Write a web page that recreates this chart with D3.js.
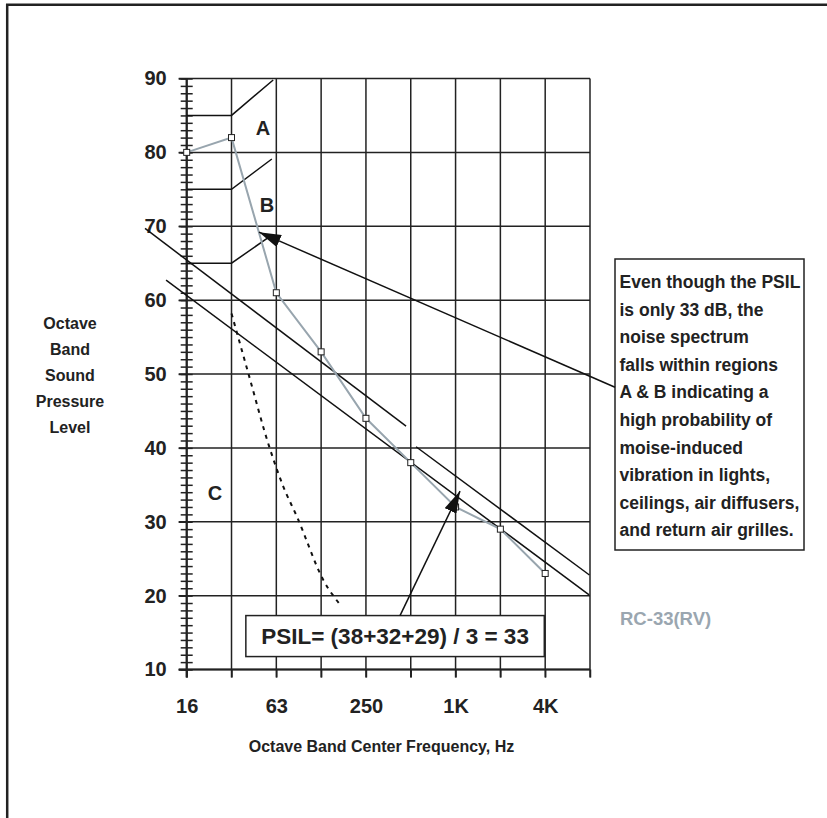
<!DOCTYPE html>
<html>
<head>
<meta charset="utf-8">
<script src="https://cdn.jsdelivr.net/npm/d3@7"></script>
<style>
  body { margin: 0; background: #fff; }
  text { font-family: "Liberation Sans", Arial, sans-serif; font-weight: bold; fill: #222; }
</style>
</head>
<body>
<div id="container"></div>
<script>
/* DATA */
var bands = ["16", "31.5", "63", "125", "250", "500", "1K", "2K", "4K", "8K"];
var bandLabels = ["16", "", "63", "", "250", "", "1K", "", "4K", ""];
var dbTicks = [10, 20, 30, 40, 50, 60, 70, 80, 90];

// measured spectrum, one value per octave band (16 Hz .. 4K)
var levels = [80, 82, 61, 53, 44, 38, 32, 29, 23];

// dashed boundary of region C  (band index, dB)
var curveBand = [1, 1.375, 1.84, 2.16, 2.46, 3.05, 3.46];
var curveDb = [58.2, 50.1, 40.2, 34.7, 30.7, 22.1, 18.5];

// region A / B boundaries  [band index, dB]
var boundaryA = [[0, 85], [1, 85], [1.93, 89.8]];
var boundaryB = [[0, 75], [1, 75], [1.9, 79.1]];
var boundaryB2 = [[0, 65], [1, 65], [1.85, 68.6]];

// sloped reference lines  [band index, dB]
var refUpper = [[-0.93, 69.7], [4.895, 42.95]];
var refRC = [[-0.46, 62.7], [8.98, 20.1]];
var refLower = [[5.118, 40.15], [8.987, 22.79]];

var noteLines = [
  "Even though the PSIL",
  "is only 33 dB, the",
  "noise spectrum",
  "falls within regions",
  "A & B indicating a",
  "high probability of",
  "moise-induced",
  "vibration in lights,",
  "ceilings, air diffusers,",
  "and return air grilles."
];
var yTitle = ["Octave", "Band", "Sound", "Pressure", "Level"];
var psilText = "PSIL= (38+32+29) / 3 = 33";

/* SCALES */
var width = 827, height = 818;
var x = d3.scaleLinear().domain([0, 9]).range([186.7, 590]);
var y = d3.scaleLinear().domain([10, 90]).range([669.5, 78.5]);
var ink = "#222";

var svg = d3.select("#container").append("svg")
  .attr("width", width)
  .attr("height", height);

var defs = svg.append("defs");
defs.append("marker")
  .attr("id", "head")
  .attr("viewBox", "0 0 22 13")
  .attr("refX", 22).attr("refY", 6.5)
  .attr("markerWidth", 22).attr("markerHeight", 13)
  .attr("markerUnits", "userSpaceOnUse")
  .attr("orient", "auto")
  .append("path").attr("d", "M0,0L22,6.5L0,13Z").attr("fill", "#111");

// frame
svg.append("path")
  .attr("d", "M7.2," + height + "V4.7H" + width)
  .attr("fill", "none").attr("stroke", ink).attr("stroke-width", 2.5);

/* GRID */
var grid = svg.append("g").attr("stroke", ink).attr("stroke-width", 1.5);
grid.selectAll(".h").data(dbTicks).enter().append("line")
  .attr("x1", x(0) - 8).attr("x2", x(9))
  .attr("y1", function(d) { return y(d); })
  .attr("y2", function(d) { return y(d); });
grid.selectAll(".v").data(d3.range(bands.length)).enter().append("line")
  .attr("x1", function(d) { return x(d); })
  .attr("x2", function(d) { return x(d); })
  .attr("y1", y(90)).attr("y2", y(10) + 8);

/* AXES */
svg.append("g").attr("transform", "translate(" + x(0) + ",0)")
  .call(d3.axisLeft(y).tickValues(d3.range(10, 91)).tickSize(6).tickFormat(""))
  .call(function(g) { g.select(".domain").remove(); });
svg.append("g").attr("transform", "translate(" + x(0) + ",0)")
  .call(d3.axisRight(y).tickValues(d3.range(10, 91)).tickSize(6).tickFormat(""))
  .call(function(g) { g.select(".domain").remove(); });
var yAxis = svg.append("g").attr("transform", "translate(" + x(0) + ",0)")
  .call(d3.axisLeft(y).tickValues(dbTicks).tickSize(8).tickPadding(12));
yAxis.select(".domain").remove();

var xAxis = svg.append("g").attr("transform", "translate(0," + y(10) + ")")
  .call(d3.axisBottom(x).tickValues(d3.range(bands.length)).tickSize(8).tickPadding(21)
    .tickFormat(function(i) { return bandLabels[i]; }));
xAxis.select(".domain").remove();

svg.selectAll(".tick line").attr("stroke", ink).attr("stroke-width", 1.5);
svg.selectAll(".tick text")
  .attr("font-family", null).attr("fill", null)
  .style("font-size", "20px");

svg.append("line")
  .attr("x1", x(0)).attr("x2", x(0))
  .attr("y1", y(90)).attr("y2", y(10) + 8)
  .attr("stroke", ink).attr("stroke-width", 2.2);
svg.append("line")
  .attr("x1", x(0) - 8).attr("x2", x(9))
  .attr("y1", y(10)).attr("y2", y(10))
  .attr("stroke", ink).attr("stroke-width", 2);

/* REFERENCE LINES */
var lineXY = d3.line()
  .x(function(d) { return x(d[0]); })
  .y(function(d) { return y(d[1]); });

svg.selectAll(".ref")
  .data([boundaryA, boundaryB, boundaryB2, refUpper, refRC, refLower])
  .enter().append("path")
  .attr("d", lineXY)
  .attr("fill", "none").attr("stroke", "#111").attr("stroke-width", 1.5);

svg.append("path")
  .datum(d3.range(curveBand.length))
  .attr("d", d3.line()
    .x(function(i) { return x(curveBand[i]); })
    .y(function(i) { return y(curveDb[i]); })
    .curve(d3.curveMonotoneX))
  .attr("fill", "none").attr("stroke", "#111").attr("stroke-width", 2)
  .attr("stroke-dasharray", "4,5");

/* SPECTRUM */
svg.append("path")
  .datum(levels)
  .attr("d", d3.line()
    .x(function(d, i) { return x(i); })
    .y(function(d) { return y(d); }))
  .attr("fill", "none").attr("stroke", "#98a5ae").attr("stroke-width", 2);

svg.selectAll(".pt").data(levels).enter().append("rect")
  .attr("x", function(d, i) { return x(i) - 3; })
  .attr("y", function(d) { return y(d) - 3; })
  .attr("width", 6).attr("height", 6)
  .attr("fill", "#fff").attr("stroke", ink).attr("stroke-width", 1);

/* ANNOTATIONS */
// PSIL box
var psilBox = { x0: 1.32, x1: 7.98, top: 17.3, bottom: 11.75 };
svg.append("rect")
  .attr("x", x(psilBox.x0)).attr("y", y(psilBox.top))
  .attr("width", x(psilBox.x1) - x(psilBox.x0))
  .attr("height", y(psilBox.bottom) - y(psilBox.top))
  .attr("fill", "#fff").attr("stroke", ink).attr("stroke-width", 1.5);
svg.append("text")
  .attr("x", (x(psilBox.x0) + x(psilBox.x1)) / 2)
  .attr("y", (y(psilBox.top) + y(psilBox.bottom)) / 2 + 8)
  .attr("text-anchor", "middle")
  .style("font-size", "22.5px")
  .text(psilText);

// note box
var note = { x: 615, y: 259, w: 189, h: 291 };
svg.append("rect")
  .attr("x", note.x).attr("y", note.y).attr("width", note.w).attr("height", note.h)
  .attr("fill", "#fff").attr("stroke", ink).attr("stroke-width", 1.5);
svg.selectAll(".note").data(noteLines).enter().append("text")
  .attr("x", note.x + 4.5)
  .attr("y", function(d, i) { return note.y + 29 + i * 27.6; })
  .style("font-size", "17.5px")
  .text(function(d) { return d; });

// arrows
svg.append("line")
  .attr("x1", note.x).attr("y1", y(48.2))
  .attr("x2", x(1.614)).attr("y2", y(69.2))
  .attr("stroke", "#111").attr("stroke-width", 1.5)
  .attr("marker-end", "url(#head)");
svg.append("line")
  .attr("x1", x(4.76)).attr("y1", y(psilBox.top))
  .attr("x2", x(6.1)).attr("y2", y(34.15))
  .attr("stroke", "#111").attr("stroke-width", 1.5)
  .attr("marker-end", "url(#head)");

// region letters
var regions = [["A", 1.7, 83.3], ["B", 1.79, 72.9], ["C", 0.63, 34]];
svg.selectAll(".reg").data(regions).enter().append("text")
  .attr("x", function(d) { return x(d[1]); })
  .attr("y", function(d) { return y(d[2]) + 7.5; })
  .attr("text-anchor", "middle")
  .style("font-size", "20px")
  .text(function(d) { return d[0]; });

svg.append("text")
  .attr("x", 620).attr("y", 625)
  .style("font-size", "18.5px").style("fill", "#9aa6b0")
  .text("RC-33(RV)");

/* TITLES */
svg.append("text")
  .attr("x", 381.5).attr("y", 752)
  .attr("text-anchor", "middle")
  .style("font-size", "16px")
  .text("Octave Band Center Frequency, Hz");

svg.selectAll(".yt").data(yTitle).enter().append("text")
  .attr("x", 70)
  .attr("y", function(d, i) { return 329 + i * 26; })
  .attr("text-anchor", "middle")
  .style("font-size", "16px")
  .text(function(d) { return d; });
</script>
</body>
</html>
